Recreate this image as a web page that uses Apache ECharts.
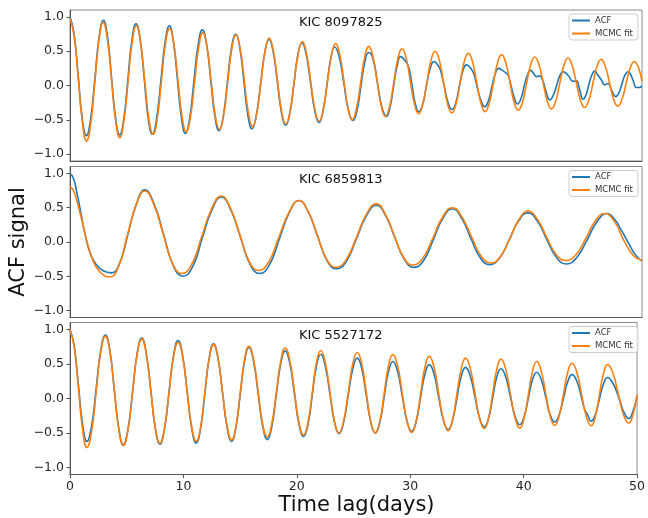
<!DOCTYPE html>
<html>
<head>
<meta charset="utf-8">
<script src="https://cdn.jsdelivr.net/npm/echarts@6/dist/echarts.min.js"></script>
<style>
  html, body { margin: 0; padding: 0; background: #fff; }
  #chart { width: 648px; height: 518px; }
</style>
</head>
<body>
<div id="chart"></div>
<script>
// Star identifiers, one per panel (top to bottom)
const stars = ['KIC 8097825', 'KIC 6859813', 'KIC 5527172'];
const seriesNames = ['ACF', 'MCMC fit'];
const xTicks = [0, 10, 20, 30, 40, 50];
const yTicks = [-1.0, -0.5, 0.0, 0.5, 1.0];

// [time lag (days), ACF signal]
const acf8097825 = [
  [0, 1.00], [0.36, 0.75], [0.72, 0.14], [1.07, -0.48], [1.43, -0.73],
  [1.80, -0.49], [2.18, 0.11], [2.55, 0.71], [2.92, 0.95],
  [3.28, 0.71], [3.63, 0.12], [3.99, -0.48], [4.34, -0.72],
  [4.70, -0.49], [5.06, 0.09], [5.41, 0.66], [5.77, 0.90],
  [6.13, 0.67], [6.49, 0.10], [6.84, -0.48], [7.20, -0.71],
  [7.57, -0.48], [7.95, 0.08], [8.32, 0.64], [8.69, 0.87],
  [9.04, 0.64], [9.39, 0.09], [9.74, -0.47], [10.09, -0.70],
  [10.46, -0.48], [10.83, 0.06], [11.20, 0.59], [11.57, 0.81],
  [11.94, 0.60], [12.30, 0.08], [12.67, -0.45], [13.03, -0.66],
  [13.39, -0.46], [13.76, 0.05], [14.12, 0.55], [14.48, 0.75],
  [14.84, 0.55], [15.20, 0.06], [15.55, -0.43], [15.91, -0.63],
  [16.28, -0.44], [16.66, 0.02], [17.03, 0.48], [17.40, 0.67],
  [17.76, 0.49], [18.13, 0.05], [18.49, -0.40], [18.85, -0.58],
  [19.21, -0.41], [19.57, 0.02], [19.92, 0.45], [20.28, 0.62],
  [20.65, 0.45], [21.03, 0.04], [21.40, -0.37], [21.77, -0.54],
  [22.11, -0.38], [22.46, 0.01], [22.80, 0.40], [23.14, 0.56],
  [23.54, 0.41], [23.94, 0.03], [24.34, -0.36], [24.74, -0.51],
  [25.08, -0.37], [25.43, -0.01], [25.77, 0.34], [26.11, 0.48],
  [26.50, 0.38], [26.89, 0.02], [27.27, -0.32], [27.66, -0.45],
  [27.97, -0.32], [28.29, -0.01], [28.60, 0.29], [28.91, 0.42],
  [29.25, 0.37], [29.60, 0.27], [29.90, 0.00], [30.20, -0.28], [30.48, -0.38],
  [30.82, -0.28], [31.15, -0.01], [31.49, 0.25], [31.82, 0.35],
  [32.10, 0.31], [32.35, 0.24], [32.70, 0.00], [33.05, -0.25], [33.39, -0.35],
  [33.71, -0.26], [34.02, -0.02], [34.34, 0.21], [34.65, 0.30],
  [35.00, 0.26], [35.30, 0.17], [35.60, -0.03], [35.95, -0.23], [36.25, -0.31],
  [36.56, -0.23], [36.86, -0.03], [37.17, 0.17], [37.47, 0.25],
  [37.80, 0.22], [38.05, 0.19], [38.29, 0.15], [38.55, 0.00], [38.85, -0.19], [39.11, -0.27],
  [39.40, -0.20], [39.69, -0.02], [39.98, 0.15], [40.27, 0.22],
  [40.55, 0.17], [40.77, 0.13], [41.06, 0.14], [41.35, 0.06], [41.65, -0.11], [41.93, -0.21],
  [42.22, -0.15], [42.52, -0.01], [42.81, 0.14], [43.10, 0.20],
  [43.53, 0.15], [43.97, 0.06], [44.27, 0.07], [44.55, -0.06], [44.84, -0.20],
  [45.10, -0.14], [45.35, 0.01], [45.61, 0.15], [45.86, 0.21],
  [46.15, 0.15], [46.45, 0.08], [46.74, 0.01], [47.03, 0.03], [47.35, -0.07], [47.70, -0.16],
  [47.97, -0.11], [48.24, 0.02], [48.51, 0.15], [48.78, 0.20],
  [49.00, 0.16], [49.21, 0.08], [49.51, -0.03], [49.75, -0.03], [50.00, -0.01]
];
const fit8097825 = [
  [0, 0.98], [0.36, 0.72], [0.73, 0.09], [1.09, -0.55], [1.45, -0.81],
  [1.81, -0.56], [2.18, 0.06], [2.54, 0.67], [2.90, 0.92],
  [3.26, 0.68], [3.63, 0.08], [3.99, -0.52], [4.35, -0.76],
  [4.71, -0.52], [5.08, 0.06], [5.44, 0.64], [5.80, 0.875],
  [6.16, 0.645], [6.53, 0.08], [6.89, -0.48], [7.26, -0.71],
  [7.62, -0.49], [7.99, 0.06], [8.35, 0.61], [8.71, 0.83],
  [9.07, 0.61], [9.44, 0.075], [9.80, -0.46], [10.16, -0.68],
  [10.52, -0.47], [10.89, 0.045], [11.25, 0.56], [11.61, 0.77],
  [11.97, 0.565], [12.34, 0.065], [12.70, -0.435], [13.06, -0.64],
  [13.42, -0.44], [13.79, 0.05], [14.15, 0.54], [14.51, 0.74],
  [14.87, 0.545], [15.24, 0.07], [15.60, -0.405], [15.96, -0.60],
  [16.32, -0.41], [16.69, 0.045], [17.05, 0.50], [17.41, 0.69],
  [17.77, 0.51], [18.14, 0.065], [18.50, -0.38], [18.86, -0.56],
  [19.22, -0.385], [19.59, 0.04], [19.95, 0.465], [20.31, 0.64],
  [20.67, 0.47], [21.04, 0.06], [21.41, -0.35], [21.77, -0.52],
  [22.13, -0.355], [22.50, 0.045], [22.86, 0.445], [23.22, 0.61],
  [23.58, 0.45], [23.95, 0.055], [24.31, -0.34], [24.67, -0.50],
  [25.03, -0.345], [25.40, 0.035], [25.76, 0.415], [26.12, 0.57],
  [26.48, 0.42], [26.85, 0.06], [27.21, -0.30], [27.57, -0.45],
  [27.93, -0.31], [28.30, 0.04], [28.66, 0.39], [29.02, 0.535],
  [29.38, 0.40], [29.75, 0.06], [30.11, -0.27], [30.47, -0.41],
  [30.83, -0.28], [31.20, 0.045], [31.56, 0.37], [31.92, 0.50],
  [32.28, 0.37], [32.65, 0.05], [33.01, -0.27], [33.37, -0.40],
  [33.73, -0.275], [34.10, 0.035], [34.46, 0.345], [34.82, 0.47],
  [35.18, 0.35], [35.55, 0.045], [35.92, -0.255], [36.28, -0.38],
  [36.64, -0.26], [37.01, 0.035], [37.37, 0.33], [37.73, 0.45],
  [38.09, 0.33], [38.46, 0.045], [38.82, -0.245], [39.18, -0.36],
  [39.54, -0.25], [39.91, 0.03], [40.27, 0.30], [40.63, 0.415],
  [40.99, 0.305], [41.36, 0.04], [41.72, -0.23], [42.08, -0.34],
  [42.44, -0.235], [42.81, 0.03], [43.17, 0.29], [43.53, 0.40],
  [43.89, 0.295], [44.26, 0.04], [44.62, -0.215], [44.98, -0.32],
  [45.34, -0.22], [45.71, 0.03], [46.07, 0.28], [46.43, 0.38],
  [46.79, 0.28], [47.16, 0.04], [47.52, -0.20], [47.88, -0.30],
  [48.24, -0.205], [48.61, 0.025], [48.97, 0.255], [49.33, 0.35],
  [49.69, 0.26], [50.00, 0.06]
];

const acf6859813 = [
  [0, 1.00], [0.30, 0.93], [0.60, 0.72], [1.00, 0.38], [1.40, 0.05], [1.80, -0.18],
  [2.30, -0.33], [2.90, -0.42], [3.62, -0.45],
  [4.35, -0.305], [5.08, 0.125], [5.81, 0.555], [6.53, 0.76],
  [7.37, 0.545], [8.20, 0.10], [9.04, -0.35], [9.88, -0.50],
  [10.72, -0.36], [11.55, 0.05], [12.39, 0.46], [13.23, 0.655],
  [14.07, 0.465], [14.90, 0.07], [15.74, -0.325], [16.58, -0.46],
  [17.44, -0.33], [18.30, 0.045], [19.16, 0.425], [20.02, 0.605],
  [20.84, 0.435], [21.65, 0.08], [22.47, -0.27], [23.29, -0.39],
  [24.16, -0.28], [25.03, 0.045], [25.91, 0.38], [26.78, 0.535],
  [27.60, 0.38], [28.42, 0.055], [29.25, -0.26], [30.07, -0.37],
  [30.91, -0.27], [31.75, 0.03], [32.58, 0.34], [33.42, 0.485],
  [34.24, 0.345], [35.05, 0.05], [35.87, -0.23], [36.68, -0.33],
  [37.52, -0.24], [38.36, 0.02], [39.19, 0.30], [40.03, 0.425],
  [40.87, 0.30], [41.71, 0.025], [42.55, -0.23], [43.39, -0.32],
  [44.28, -0.23], [45.17, 0.02], [46.05, 0.29], [46.94, 0.415],
  [47.60, 0.33], [48.20, 0.17], [48.80, -0.01], [49.40, -0.18], [50.00, -0.28]
];
const fit6859813 = [
  [0, 0.81], [0.30, 0.75], [0.60, 0.60], [1.00, 0.34], [1.40, 0.06], [1.80, -0.17],
  [2.30, -0.37], [2.90, -0.48], [3.47, -0.51],
  [4.24, -0.36], [5.00, 0.09], [5.77, 0.53], [6.53, 0.745],
  [7.34, 0.54], [8.16, 0.11], [8.97, -0.315], [9.78, -0.46],
  [10.64, -0.325], [11.51, 0.075], [12.37, 0.48], [13.23, 0.67],
  [14.04, 0.485], [14.86, 0.10], [15.67, -0.285], [16.48, -0.415],
  [17.37, -0.29], [18.25, 0.065], [19.14, 0.43], [20.02, 0.605],
  [20.83, 0.44], [21.64, 0.09], [22.44, -0.25], [23.25, -0.37],
  [24.13, -0.26], [25.02, 0.06], [25.90, 0.40], [26.78, 0.555],
  [27.58, 0.40], [28.38, 0.08], [29.18, -0.23], [29.98, -0.335],
  [30.84, -0.235], [31.70, 0.05], [32.56, 0.36], [33.42, 0.50],
  [34.27, 0.36], [35.11, 0.07], [35.96, -0.21], [36.80, -0.305],
  [37.61, -0.215], [38.42, 0.04], [39.22, 0.32], [40.03, 0.45],
  [40.86, 0.33], [41.69, 0.06], [42.52, -0.185], [43.35, -0.27],
  [44.20, -0.19], [45.05, 0.04], [45.89, 0.30], [46.74, 0.415],
  [47.58, 0.30], [48.42, 0.02], [49.26, -0.20], [50.00, -0.27]
];

const acf5527172 = [
  [0, 1.00], [0.37, 0.765], [0.745, 0.19], [1.12, -0.385], [1.49, -0.62],
  [1.90, -0.40], [2.31, 0.15], [2.71, 0.70], [3.12, 0.92],
  [3.52, 0.69], [3.91, 0.125], [4.31, -0.44], [4.70, -0.67],
  [5.11, -0.445], [5.52, 0.10], [5.92, 0.65], [6.33, 0.875],
  [6.73, 0.65], [7.13, 0.11], [7.53, -0.44], [7.93, -0.66],
  [8.33, -0.44], [8.73, 0.09], [9.13, 0.62], [9.53, 0.84],
  [9.93, 0.625], [10.33, 0.10], [10.73, -0.43], [11.13, -0.645],
  [11.51, -0.44], [11.89, 0.07], [12.27, 0.58], [12.65, 0.79],
  [13.05, 0.585], [13.45, 0.085], [13.85, -0.415], [14.25, -0.62],
  [14.63, -0.42], [15.01, 0.06], [15.39, 0.54], [15.77, 0.74],
  [16.18, 0.545], [16.59, 0.07], [16.99, -0.40], [17.40, -0.595],
  [17.79, -0.41], [18.19, 0.05], [18.58, 0.50], [18.97, 0.69],
  [19.38, 0.51], [19.79, 0.07], [20.19, -0.37], [20.60, -0.55],
  [20.98, -0.38], [21.36, 0.045], [21.73, 0.47], [22.11, 0.64],
  [22.51, 0.47], [22.92, 0.065], [23.32, -0.34], [23.72, -0.51],
  [24.12, -0.35], [24.53, 0.04], [24.93, 0.425], [25.33, 0.585],
  [25.73, 0.43], [26.13, 0.04], [26.52, -0.34], [26.92, -0.50],
  [27.31, -0.35], [27.70, 0.02], [28.08, 0.385], [28.47, 0.535],
  [28.89, 0.39], [29.30, 0.03], [29.72, -0.33], [30.13, -0.475],
  [30.52, -0.335], [30.91, 0.01], [31.29, 0.35], [31.68, 0.49],
  [32.10, 0.355], [32.51, 0.02], [32.93, -0.315], [33.34, -0.45],
  [33.73, -0.32], [34.11, 0.00], [34.50, 0.32], [34.88, 0.45],
  [35.29, 0.325], [35.71, 0.02], [36.12, -0.285], [36.53, -0.41],
  [36.90, -0.29], [37.27, 0.01], [37.63, 0.31], [38.00, 0.43],
  [38.42, 0.31], [38.83, 0.025], [39.25, -0.26], [39.66, -0.38],
  [40.03, -0.27], [40.41, 0.00], [40.78, 0.27], [41.15, 0.38],
  [41.55, 0.275], [41.95, 0.02], [42.34, -0.235], [42.74, -0.34],
  [43.12, -0.24], [43.51, 0.00], [43.89, 0.245], [44.27, 0.345],
  [44.69, 0.25], [45.11, 0.01], [45.40, -0.17], [45.60, -0.22], [45.95, -0.33],
  [46.31, -0.24], [46.68, -0.01], [47.04, 0.21], [47.40, 0.305],
  [47.87, 0.22], [48.20, 0.10], [48.50, -0.04], [48.85, -0.20], [49.27, -0.29],
  [49.63, -0.19], [50.00, 0.03]
];
const fit5527172 = [
  [0, 1.00], [0.37, 0.75], [0.745, 0.145], [1.12, -0.46], [1.49, -0.71],
  [1.90, -0.48], [2.31, 0.095], [2.71, 0.67], [3.12, 0.90],
  [3.52, 0.67], [3.91, 0.11], [4.31, -0.45], [4.70, -0.68],
  [5.11, -0.46], [5.52, 0.09], [5.92, 0.64], [6.33, 0.86],
  [6.73, 0.64], [7.13, 0.11], [7.53, -0.43], [7.93, -0.645],
  [8.33, -0.435], [8.73, 0.085], [9.13, 0.60], [9.53, 0.815],
  [9.93, 0.605], [10.33, 0.10], [10.73, -0.41], [11.13, -0.62],
  [11.51, -0.42], [11.89, 0.08], [12.27, 0.58], [12.65, 0.78],
  [13.05, 0.58], [13.45, 0.09], [13.85, -0.40], [14.25, -0.60],
  [14.63, -0.40], [15.01, 0.08], [15.39, 0.56], [15.77, 0.755],
  [16.18, 0.565], [16.59, 0.10], [16.99, -0.37], [17.40, -0.56],
  [17.79, -0.37], [18.19, 0.085], [18.58, 0.54], [18.97, 0.73],
  [19.38, 0.55], [19.79, 0.10], [20.19, -0.35], [20.60, -0.53],
  [20.98, -0.35], [21.36, 0.08], [21.73, 0.52], [22.11, 0.695],
  [22.51, 0.52], [22.92, 0.10], [23.32, -0.33], [23.72, -0.50],
  [24.12, -0.33], [24.53, 0.08], [24.93, 0.50], [25.33, 0.665],
  [25.73, 0.50], [26.13, 0.08], [26.52, -0.33], [26.92, -0.50],
  [27.31, -0.335], [27.70, 0.07], [28.08, 0.47], [28.47, 0.635],
  [28.89, 0.47], [29.30, 0.07], [29.72, -0.33], [30.13, -0.49],
  [30.52, -0.33], [30.91, 0.06], [31.29, 0.45], [31.68, 0.61],
  [32.10, 0.45], [32.51, 0.07], [32.93, -0.31], [33.34, -0.465],
  [33.73, -0.31], [34.11, 0.06], [34.50, 0.43], [34.88, 0.585],
  [35.29, 0.44], [35.71, 0.075], [36.12, -0.29], [36.53, -0.435],
  [36.90, -0.29], [37.27, 0.07], [37.63, 0.42], [38.00, 0.57],
  [38.42, 0.425], [38.83, 0.07], [39.25, -0.285], [39.66, -0.43],
  [40.03, -0.29], [40.41, 0.05], [40.78, 0.395], [41.15, 0.535],
  [41.55, 0.40], [41.95, 0.07], [42.34, -0.255], [42.74, -0.39],
  [43.12, -0.26], [43.51, 0.06], [43.89, 0.38], [44.27, 0.51],
  [44.69, 0.38], [45.11, 0.06], [45.53, -0.265], [45.95, -0.395],
  [46.31, -0.27], [46.68, 0.05], [47.04, 0.36], [47.40, 0.49],
  [47.87, 0.37], [48.34, 0.07], [48.80, -0.23], [49.27, -0.355],
  [49.63, -0.24], [50.00, 0.055]
];

const panelAcf = [acf8097825, acf6859813, acf5527172];
const panelFit = [fit8097825, fit6859813, fit5527172];

// Layout of the three stacked panels
const FONT = 'DejaVu Sans';
const panelTop = [10, 166.5, 322.5];
const panelHeight = [151, 151, 152];
const plotLeft = 70;
const plotWidth = 572;
const colors = ['#1f77b4', '#ff7f0e'];
const legendLine = 'path://M0,0h18v2h-18z';

const fmtY = v => (v < 0 ? '\u2212' : '') + Math.abs(v).toFixed(1);

const grid = [], xAxis = [], yAxis = [], series = [], legend = [], title = [];
for (let i = 0; i < 3; i++) {
  const last = i === 2;
  grid.push({
    left: plotLeft, top: panelTop[i], width: plotWidth, height: panelHeight[i],
    show: true, borderColor: '#8a8a8a', borderWidth: 1, backgroundColor: '#fff'
  });
  xAxis.push({
    type: 'value', gridIndex: i, min: 0, max: 50, interval: 10,
    axisLine: { show: true, onZero: false, lineStyle: { color: '#555', width: 1 } },
    axisTick: { show: last, length: 3.5, inside: false, lineStyle: { color: '#555' } },
    axisLabel: { show: last, margin: 5.5, fontFamily: FONT, fontSize: 12.5, color: '#262626',
                 customValues: xTicks },
    splitLine: { show: false }
  });
  yAxis.push({
    type: 'value', gridIndex: i, min: -1.1, max: 1.1,
    axisLine: { show: true, onZero: false, lineStyle: { color: '#555', width: 1 } },
    axisTick: { show: true, length: 3.5, customValues: yTicks, lineStyle: { color: '#555' } },
    axisLabel: { margin: 6, fontFamily: FONT, fontSize: 12.5, color: '#262626',
                 customValues: yTicks, formatter: fmtY },
    splitLine: { show: false }
  });
  [panelAcf[i], panelFit[i]].forEach((data, k) => {
    series.push({
      type: 'line', name: seriesNames[k], xAxisIndex: i, yAxisIndex: i,
      data: data, smooth: 0.5, symbol: 'none', z: 2 + k,
      lineStyle: { color: colors[k], width: 1.6 },
      itemStyle: { color: colors[k] }
    });
  });
  legend.push({
    orient: 'vertical', left: 569, top: panelTop[i] + 4,
    data: seriesNames.map(n => ({ name: n, icon: legendLine })),
    itemWidth: 18, itemHeight: 10, itemGap: 4, itemTextGap: 6, symbolKeepAspect: true,
    padding: [2, 5, 2, 3], borderColor: '#cccccc', borderWidth: 1, borderRadius: 3,
    backgroundColor: 'rgba(255,255,255,0.85)', selectedMode: false,
    textStyle: { fontFamily: FONT, fontSize: 8.5, color: '#333' }
  });
  title.push({
    text: stars[i], left: 299, top: panelTop[i] + 5.5, padding: 0,
    textStyle: { fontFamily: FONT, fontSize: 13, fontWeight: 'normal', color: '#111', lineHeight: 15 }
  });
}

const chart = echarts.init(document.getElementById('chart'), null, { renderer: 'canvas' });
chart.setOption({
  animation: false,
  backgroundColor: '#fff',
  grid, xAxis, yAxis, series, legend, title,
  graphic: [
    { type: 'text', x: 18.5, y: 242, rotation: Math.PI / 2,
      style: { text: 'ACF signal', fontFamily: FONT, fontSize: 21, fill: '#111',
               textAlign: 'center', textVerticalAlign: 'middle' } },
    { type: 'text', x: 356.5, y: 506,
      style: { text: 'Time lag(days)', fontFamily: FONT, fontSize: 21, fill: '#111',
               textAlign: 'center', textVerticalAlign: 'middle' } }
  ]
});
</script>
</body>
</html>
